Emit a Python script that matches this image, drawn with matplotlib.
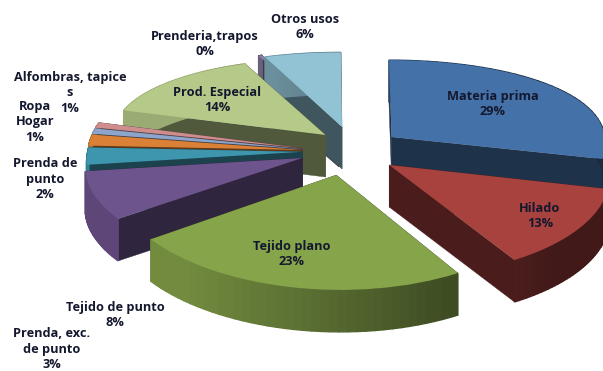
import numpy as np
import matplotlib
matplotlib.use("Agg")
import matplotlib.pyplot as plt
from matplotlib.colors import to_rgb
from matplotlib.patches import Polygon
from matplotlib.transforms import Transform

categories = ["Materia prima", "Hilado", "Tejido plano", "Tejido de punto",
              "Prenda, exc.\nde punto", "Prenda de\npunto", "Ropa\nHogar",
              "Alfombras, tapice\ns", "Prod. Especial", "Prenderia,trapos", "Otros usos"]
values = [29, 13, 23, 8, 3, 2, 1, 1, 14, 0.3, 6]
colors = ["#4472a8", "#a8423f", "#86a44a", "#6e548d", "#3d96ae", "#da8137",
          "#8ea5cb", "#ce8e8d", "#b5ca88", "#8b7fa3", "#92c3d5"]

# Displacement of each slice in the plane of the pie
offsets = [(.43, .146), (.41, -.161), (.165, -.265), (.01, -.087), (.01, -.02),
           (.01, 0), (.01, .01), (.01, .02), (.12, .169), (.184, .286), (.198, .262)]
# Slices are painted from the back of the pie towards the viewer
paint_order = [9, 10, 8, 7, 6, 5, 4, 3, 0, 1, 2]
label_pos = [(493, 104), (540, 216), (292, 254), (115, 315), (52, 349), (45, 179),
             (35, 122), (70, 93), (217, 100), (205, 44), (305, 27)]

CX, CY, RX, RY = 300, 150, 214, 91
PERSP_Y = 0.14
PERSP_X_FRONT, PERSP_X_BACK = 0.10, 0.03
DEPTH = 42


class PiePerspective(Transform):
    """Tilts the flat pie plane into pixel-like axes coordinates."""
    input_dims = output_dims = 2

    def transform_non_affine(self, xy):
        xy = np.asarray(xy, float)
        x, y = xy[:, 0], xy[:, 1]
        kx = 1 + np.where(y < 0, PERSP_X_FRONT, PERSP_X_BACK) * y
        ky = 1 + PERSP_Y * y
        return np.column_stack((CX + RX * x / kx, CY - RY * y / ky))


def shaded(color, factor):
    return tuple(min(1, c * factor) for c in to_rgb(color))


fig = plt.figure(figsize=(6.03, 3.71), dpi=100)
ax = fig.add_axes([0, 0, 1, 1])
wedges, _ = ax.pie(values, colors=colors, startangle=90, counterclock=False, radius=1)
ax.set_aspect("auto")
ax.set_xlim(0, 603)
ax.set_ylim(371, 0)
ax.axis("off")

plane = PiePerspective()
to_screen = plane + ax.transData

for z, i in enumerate(paint_order):
    w = wedges[i]
    c = np.array(offsets[i])
    w.set_center(tuple(c))
    w.set_transform(to_screen)
    w.set_linewidth(0)
    w.set_zorder(10 * z + 5)

    th = np.radians(np.linspace(w.theta1, w.theta2, 40))
    edge = plane.transform_non_affine(c + np.column_stack((np.cos(th), np.sin(th))))
    apex = plane.transform_non_affine(c[None, :])[0]
    drop = np.array([0, DEPTH])

    # Cut faces along both radial edges
    wall = shaded(colors[i], 0.44)
    for p in (edge[0], edge[-1]):
        ax.add_patch(Polygon([apex, p, p + drop, apex + drop], fc=wall, ec=wall, lw=0.3,
                             zorder=10 * z + 1))
    # Outer rim, lit from the left
    for k in range(len(th) - 1):
        tone = np.clip(0.62 - 0.35 * np.cos(th[k]), 0.38, 0.85)
        rim = shaded(colors[i], tone)
        ax.add_patch(Polygon([edge[k], edge[k + 1], edge[k + 1] + drop, edge[k] + drop],
                             fc=rim, ec=rim, lw=1.0, zorder=10 * z + 2))

for name, v, (x, y) in zip(categories, values, label_pos):
    ax.text(x, y, f"{name}\n{round(v)}%", ha="center", va="center", fontsize=9.2,
            fontweight="bold", family="Open Sans", color="#14182e", linespacing=1.25,
            zorder=500)

fig.savefig("out.png", dpi=100)
